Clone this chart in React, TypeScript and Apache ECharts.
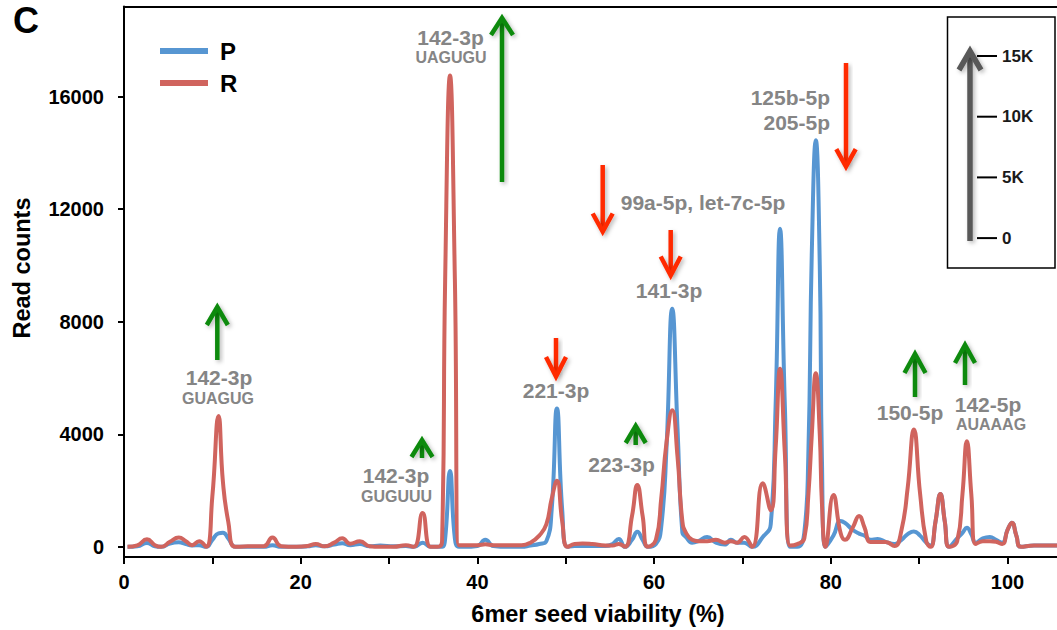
import React, { useEffect, useRef } from "react";
import * as echarts from "echarts";

const xs = [0.4, 1.5, 2.6, 3.5, 4.2, 5.2, 6.2, 7.0, 7.7, 8.5, 9.3, 10.0, 10.7, 11.2, 11.8, 12.6, 14.0, 15.8, 16.8, 17.8, 19.5, 20.8, 21.7, 22.7, 23.8, 24.7, 25.6, 26.7, 27.8, 29.0, 30.5, 31.9, 32.8, 33.8, 34.7, 35.5, 36.0, 36.35, 36.9, 37.45, 37.9, 38.5, 40.0, 40.9, 41.8, 43.5, 45.0, 46.0, 47.0, 47.8, 48.4, 49.0, 49.6, 50.2, 51.0, 51.9, 53.0, 54.5, 55.3, 56.0, 56.7, 57.5, 58.1, 58.7, 59.3, 60.2, 60.8, 61.4, 62.05, 62.65, 63.2, 63.6, 64.3, 65.0, 66.0, 67.0, 68.0, 68.7, 69.4, 70.2, 71.1, 72.3, 73.2, 73.75, 74.25, 74.8, 75.4, 76.2, 77.0, 77.45, 77.85, 78.3, 78.75, 79.0, 79.4, 80.3, 81.1, 81.6, 82.5, 83.2, 83.8, 84.5, 85.3, 86.2, 87.2, 88.0, 88.7, 89.4, 90.1, 90.8, 91.3, 91.85, 92.4, 92.9, 93.4, 94.3, 94.9, 95.4, 95.9, 96.4, 97.2, 98.0, 98.7, 99.4, 100.0, 100.5, 101.0, 101.5, 103.0, 106.0];

const pVals = [0, 20, 140, 20, 0, 120, 160, 100, 50, 60, 0, 250, 480, 500, 300, 0, 0, 0, 60, 0, 0, 20, 60, 20, 80, 130, 60, 100, 20, 50, 20, 30, 0, 150, 0, 0, 0, 300, 2700, 300, 0, 0, 30, 250, 30, 0, 0, 50, 100, 200, 1300, 4920, 1300, 0, 30, 30, 30, 30, 100, 280, 0, 250, 540, 250, 0, 100, 700, 3500, 8460, 4200, 500, 350, 150, 200, 350, 150, 80, 250, 150, 150, 0, 350, 800, 5000, 11300, 5000, 0, 0, 500, 3200, 10500, 14450, 10000, 3000, 0, 400, 920, 850, 600, 470, 400, 250, 280, 180, 100, 250, 450, 550, 400, 150, 50, 900, 1880, 900, 0, 300, 500, 680, 450, 150, 300, 350, 250, 150, 600, 860, 400, 0, 50, 50];

const rVals = [0, 50, 270, 60, 0, 180, 330, 200, 60, 200, 0, 1800, 4650, 2300, 900, 0, 20, 20, 330, 20, 0, 30, 100, 20, 150, 310, 110, 200, 20, 0, 0, 60, 0, 1200, 0, 0, 200, 9500, 16750, 9500, 60, 60, 60, 90, 60, 60, 60, 150, 400, 800, 1700, 2350, 900, 0, 100, 120, 100, 50, 50, 100, 0, 1100, 2200, 1100, 0, 250, 1700, 3700, 4850, 3200, 900, 500, 250, 200, 200, 250, 150, 200, 150, 350, 0, 2260, 1300, 3500, 6330, 3300, 50, 100, 300, 1800, 4000, 6170, 4000, 1500, 0, 1840, 500, 250, 700, 1100, 700, 170, 170, 170, 30, 600, 2100, 4170, 1900, 200, 0, 900, 1880, 900, 0, 200, 1875, 3750, 1875, 100, 200, 200, 180, 100, 600, 860, 400, 0, 50, 50];

const seriesNames = ["P", "R"];
const yTicks = [0, 4000, 8000, 12000, 16000];
const xLabelStep = 20;
const insetLabels = ["15K", "10K", "5K", "0"];

// annotation labels: [text, x, y, size, align]
const annoTexts: [string, number, number, number, string][] = [
  ["142-3p", 219, 377.5, 21, "center"],
  ["GUAGUG", 218, 398.5, 16, "center"],
  ["142-3p", 396, 475.5, 21, "center"],
  ["GUGUUU", 396.5, 496.5, 16, "center"],
  ["142-3p", 450.5, 37.5, 21, "center"],
  ["UAGUGU", 451, 57.5, 16, "center"],
  ["221-3p", 556, 390.5, 21, "center"],
  ["99a-5p, let-7c-5p", 703, 202.5, 21, "center"],
  ["141-3p", 669, 290.5, 21, "center"],
  ["223-3p", 621.5, 464, 21, "center"],
  ["125b-5p", 830, 97.5, 21, "right"],
  ["205-5p", 830, 122.5, 21, "right"],
  ["150-5p", 910, 412.5, 21, "center"],
  ["142-5p", 988, 404, 21, "center"],
  ["AUAAAG", 991, 424.5, 16, "center"],
];

// arrows: [x, tailY, tipY, halfWidth, headHeight, color]
const GREEN = "#0a8a0a";
const RED = "#ff2a00";
const arrows: [number, number, number, number, number, string][] = [
  [217.3, 360, 307, 10.5, 18, GREEN],
  [422, 458, 440, 10.5, 17, GREEN],
  [502, 182, 18, 11, 17, GREEN],
  [635.7, 445, 426, 10, 17, GREEN],
  [915, 397, 354, 10.5, 19, GREEN],
  [965, 385, 345, 10, 18, GREEN],
  [556, 338, 376.5, 10, 19.5, RED],
  [602.7, 165, 231.5, 10, 18, RED],
  [670.7, 230, 275.5, 10, 19, RED],
  [846, 63, 166.7, 9.7, 17.5, RED],
];

const FONT = '"Liberation Sans", Arial, Helvetica, sans-serif';

function makeArrow(a: [number, number, number, number, number, string], lw = 4.5) {
  const [x, tail, tip, hw, hh, color] = a;
  const dir = tip < tail ? 1 : -1; // 1 = up
  const shadow = { shadowBlur: 4, shadowColor: "rgba(0,0,0,0.28)", shadowOffsetX: 2, shadowOffsetY: 2 };
  const top = Math.min(tail, tip + dir * 3);
  const bot = Math.max(tail, tip + dir * 3);
  return {
    type: "group",
    children: [
      {
        type: "rect",
        shape: { x: x - lw / 2, y: top, width: lw, height: bot - top },
        style: { fill: color, ...shadow },
      },
      {
        type: "polyline",
        shape: { points: [[x - hw, tip + dir * hh], [x, tip], [x + hw, tip + dir * hh]] },
        style: { stroke: color, lineWidth: lw, fill: null, lineJoin: "miter", ...shadow },
      },
    ],
  };
}

export default function App() {
  const ref = useRef<HTMLDivElement>(null);
  useEffect(() => {
    if (!ref.current) return;
    const chart = echarts.init(ref.current, null, { renderer: "svg" });
    const pData = xs.map((x, i) => [x, pVals[i]]);
    const rData = xs.map((x, i) => [x, rVals[i]]);

    const insetTop = 56;
    const insetStep = 60.7;
    const graphic: any[] = [
      {
        type: "text", x: 26, y: 20,
        style: { text: "C", fontSize: 36, fontWeight: "bold", fontFamily: FONT, fill: "#000", align: "center", verticalAlign: "middle" },
      },
      {
        type: "text", x: 22, y: 268, rotation: Math.PI / 2,
        style: { text: "Read counts", fontSize: 23.5, fontWeight: "bold", fontFamily: FONT, fill: "#000", align: "center", verticalAlign: "middle" },
      },
      {
        type: "text", x: 598, y: 614,
        style: { text: "6mer seed viability (%)", fontSize: 23.5, fontWeight: "bold", fontFamily: FONT, fill: "#000", align: "center", verticalAlign: "middle" },
      },
      {
        type: "rect", shape: { x: 947.5, y: 17, width: 107.5, height: 251 },
        style: { fill: "#fff", stroke: "#000", lineWidth: 1.5 },
      },
      makeArrow([970, 241, 51, 11, 19, "#595959"], 5.5),
    ];
    insetLabels.forEach((t, i) => {
      const y = insetTop + i * insetStep;
      graphic.push({ type: "rect", shape: { x: 977, y: y - 1, width: 20, height: 2 }, style: { fill: "#000" } });
      graphic.push({
        type: "text", x: 1002, y,
        style: { text: t, fontSize: 17, fontWeight: "bold", fontFamily: FONT, fill: "#1a1a1a", align: "left", verticalAlign: "middle" },
      });
    });
    arrows.forEach((a) => graphic.push(makeArrow(a)));
    annoTexts.forEach(([t, x, y, s, al]) => {
      graphic.push({
        type: "text", x, y,
        style: { text: t, fontSize: s, fontWeight: "bold", fontFamily: FONT, fill: "#858585", align: al, verticalAlign: "middle" },
      });
    });

    chart.setOption({
      animation: false,
      backgroundColor: "#fff",
      grid: { left: 124, top: 6.5, right: 0, bottom: 73, containLabel: false },
      legend: {
        data: seriesNames,
        orient: "vertical",
        left: 155,
        top: 34,
        icon: "rect",
        itemWidth: 48,
        itemHeight: 6,
        itemGap: 8,
        textStyle: { fontSize: 24, fontWeight: "bold", color: "#000", fontFamily: FONT, padding: [0, 0, 0, 7] },
      },
      xAxis: [
        {
          type: "value",
          min: 0,
          max: 105.6,
          interval: 10,
          axisLine: { show: true, onZero: false, lineStyle: { color: "#000", width: 2 } },
          axisTick: { show: true, length: 7, lineStyle: { color: "#000", width: 2 } },
          axisLabel: {
            fontSize: 20, fontWeight: "bold", color: "#000", fontFamily: FONT, margin: 15,
            showMaxLabel: false,
            formatter: (v: number) => (v % xLabelStep === 0 ? String(v) : ""),
          },
          splitLine: { show: false },
        },
        {
          type: "value",
          position: "top",
          min: 0,
          max: 105.6,
          axisLine: { show: true, onZero: false, lineStyle: { color: "#000", width: 2 } },
          axisTick: { show: false },
          axisLabel: { show: false },
          splitLine: { show: false },
        },
      ],
      yAxis: {
        type: "value",
        min: -360,
        max: 19200,
        axisLine: { show: true, lineStyle: { color: "#000", width: 2 } },
        axisTick: { show: true, length: 6, customValues: yTicks, lineStyle: { color: "#000", width: 2 } },
        axisLabel: {
          customValues: yTicks, fontSize: 20, fontWeight: "bold", color: "#000", fontFamily: FONT, margin: 20,
          formatter: (v: number) => String(v),
        },
        splitLine: { show: false },
      },
      series: [
        {
          name: seriesNames[0], type: "line", data: pData, smooth: 0.5, symbol: "none",
          lineStyle: { color: "#5796d2", width: 4 }, itemStyle: { color: "#5796d2" }, z: 2,
        },
        {
          name: seriesNames[1], type: "line", data: rData, smooth: 0.5, symbol: "none",
          lineStyle: { color: "#d0645e", width: 4 }, itemStyle: { color: "#d0645e" }, z: 3,
        },
      ],
      graphic,
    });
    return () => chart.dispose();
  }, []);
  return (
    <div
      ref={ref}
      style={{ position: "fixed", left: 0, top: 0, width: 1057, height: 630, background: "#fff" }}
    />
  );
}
